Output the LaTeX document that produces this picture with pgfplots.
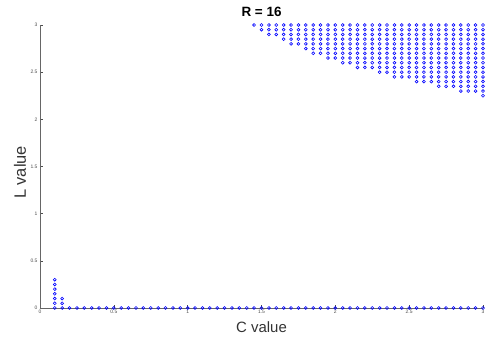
\documentclass[border=0pt]{standalone}
\usepackage{fontspec}
\setmainfont{Liberation Sans}
\usepackage{pgfplots}
\pgfplotsset{compat=1.18}
\begin{document}
\begin{tikzpicture}
\begin{axis}[
  name=ax,
  scale only axis,
  width=443bp, height=283bp,
  xmin=0, xmax=3, ymin=0, ymax=3,
  axis x line=bottom, axis y line=left,
  axis line style={-, draw=black!60, line width=0.8bp},
  xtick={0,0.5,1,1.5,2,2.5,3},
  ytick={0,0.5,1,1.5,2,2.5,3},
  xticklabels={0,0.5,1,1.5,2,2.5,3},
  yticklabels={0,0.5,1,1.5,2,2.5,3},
  tick align=inside,
  major tick length=3bp,
  tick style={draw=black!70, line width=0.6bp},
  tick label style={font=\fontsize{5}{6}\selectfont, text=black!70},
  xticklabel style={yshift=1bp},
  yticklabel style={xshift=1bp},
  /pgf/number format/assume math mode=true,
  clip=false,
  every axis title shift=0pt,
  title={\textbf{R = 16}},
  title style={at={(axis description cs:0.5,1)}, anchor=base, yshift=8bp, inner sep=0pt, font=\fontsize{13.5}{16}\selectfont},
  xlabel={C value},
  ylabel={L value},
  x label style={at={(axis description cs:0.5,0)}, anchor=north, yshift=-13bp, inner sep=0pt, font=\fontsize{15}{18}\selectfont, text=black!80},
  y label style={at={(axis description cs:-0.0451,0.479)}, anchor=center, inner sep=0pt, font=\fontsize{16.5}{19}\selectfont, text=black!80},
]
\addplot[only marks, mark=o, mark size=1.45bp, mark options={draw=blue, line width=0.6bp}] coordinates {
(0.1,0)(0.15,0)(0.2,0)(0.25,0)(0.3,0)(0.35,0)(0.4,0)(0.45,0)(0.5,0)(0.55,0)
(0.6,0)(0.65,0)(0.7,0)(0.75,0)(0.8,0)(0.85,0)(0.9,0)(0.95,0)(1,0)(1.05,0)
(1.1,0)(1.15,0)(1.2,0)(1.25,0)(1.3,0)(1.35,0)(1.4,0)(1.45,0)(1.5,0)(1.55,0)
(1.6,0)(1.65,0)(1.7,0)(1.75,0)(1.8,0)(1.85,0)(1.9,0)(1.95,0)(2,0)(2.05,0)
(2.1,0)(2.15,0)(2.2,0)(2.25,0)(2.3,0)(2.35,0)(2.4,0)(2.45,0)(2.5,0)(2.55,0)
(2.6,0)(2.65,0)(2.7,0)(2.75,0)(2.8,0)(2.85,0)(2.9,0)(2.95,0)(3,0)
(0.1,0.05)(0.1,0.1)(0.1,0.15)(0.1,0.2)(0.1,0.25)(0.1,0.3)
(0.15,0.05)(0.15,0.1)
(1.45,3)
(1.5,3)(1.5,2.95)
(1.55,3)(1.55,2.95)(1.55,2.9)
(1.6,3)(1.6,2.95)(1.6,2.9)
(1.65,3)(1.65,2.95)(1.65,2.9)(1.65,2.85)
(1.7,3)(1.7,2.95)(1.7,2.9)(1.7,2.85)(1.7,2.8)
(1.75,3)(1.75,2.95)(1.75,2.9)(1.75,2.85)(1.75,2.8)
(1.8,3)(1.8,2.95)(1.8,2.9)(1.8,2.85)(1.8,2.8)(1.8,2.75)
(1.85,3)(1.85,2.95)(1.85,2.9)(1.85,2.85)(1.85,2.8)(1.85,2.75)(1.85,2.7)
(1.9,3)(1.9,2.95)(1.9,2.9)(1.9,2.85)(1.9,2.8)(1.9,2.75)(1.9,2.7)
(1.95,3)(1.95,2.95)(1.95,2.9)(1.95,2.85)(1.95,2.8)(1.95,2.75)(1.95,2.7)(1.95,2.65)
(2,3)(2,2.95)(2,2.9)(2,2.85)(2,2.8)(2,2.75)(2,2.7)(2,2.65)
(2.05,3)(2.05,2.95)(2.05,2.9)(2.05,2.85)(2.05,2.8)(2.05,2.75)(2.05,2.7)(2.05,2.65)(2.05,2.6)
(2.1,3)(2.1,2.95)(2.1,2.9)(2.1,2.85)(2.1,2.8)(2.1,2.75)(2.1,2.7)(2.1,2.65)(2.1,2.6)
(2.15,3)(2.15,2.95)(2.15,2.9)(2.15,2.85)(2.15,2.8)(2.15,2.75)(2.15,2.7)(2.15,2.65)(2.15,2.6)(2.15,2.55)
(2.2,3)(2.2,2.95)(2.2,2.9)(2.2,2.85)(2.2,2.8)(2.2,2.75)(2.2,2.7)(2.2,2.65)(2.2,2.6)(2.2,2.55)
(2.25,3)(2.25,2.95)(2.25,2.9)(2.25,2.85)(2.25,2.8)(2.25,2.75)(2.25,2.7)(2.25,2.65)(2.25,2.6)(2.25,2.55)
(2.3,3)(2.3,2.95)(2.3,2.9)(2.3,2.85)(2.3,2.8)(2.3,2.75)(2.3,2.7)(2.3,2.65)(2.3,2.6)(2.3,2.55)(2.3,2.5)
(2.35,3)(2.35,2.95)(2.35,2.9)(2.35,2.85)(2.35,2.8)(2.35,2.75)(2.35,2.7)(2.35,2.65)(2.35,2.6)(2.35,2.55)(2.35,2.5)
(2.4,3)(2.4,2.95)(2.4,2.9)(2.4,2.85)(2.4,2.8)(2.4,2.75)(2.4,2.7)(2.4,2.65)(2.4,2.6)(2.4,2.55)(2.4,2.5)(2.4,2.45)
(2.45,3)(2.45,2.95)(2.45,2.9)(2.45,2.85)(2.45,2.8)(2.45,2.75)(2.45,2.7)(2.45,2.65)(2.45,2.6)(2.45,2.55)(2.45,2.5)(2.45,2.45)
(2.5,3)(2.5,2.95)(2.5,2.9)(2.5,2.85)(2.5,2.8)(2.5,2.75)(2.5,2.7)(2.5,2.65)(2.5,2.6)(2.5,2.55)(2.5,2.5)(2.5,2.45)
(2.55,3)(2.55,2.95)(2.55,2.9)(2.55,2.85)(2.55,2.8)(2.55,2.75)(2.55,2.7)(2.55,2.65)(2.55,2.6)(2.55,2.55)(2.55,2.5)(2.55,2.45)(2.55,2.4)
(2.6,3)(2.6,2.95)(2.6,2.9)(2.6,2.85)(2.6,2.8)(2.6,2.75)(2.6,2.7)(2.6,2.65)(2.6,2.6)(2.6,2.55)(2.6,2.5)(2.6,2.45)(2.6,2.4)
(2.65,3)(2.65,2.95)(2.65,2.9)(2.65,2.85)(2.65,2.8)(2.65,2.75)(2.65,2.7)(2.65,2.65)(2.65,2.6)(2.65,2.55)(2.65,2.5)(2.65,2.45)(2.65,2.4)
(2.7,3)(2.7,2.95)(2.7,2.9)(2.7,2.85)(2.7,2.8)(2.7,2.75)(2.7,2.7)(2.7,2.65)(2.7,2.6)(2.7,2.55)(2.7,2.5)(2.7,2.45)(2.7,2.4)(2.7,2.35)
(2.75,3)(2.75,2.95)(2.75,2.9)(2.75,2.85)(2.75,2.8)(2.75,2.75)(2.75,2.7)(2.75,2.65)(2.75,2.6)(2.75,2.55)(2.75,2.5)(2.75,2.45)(2.75,2.4)(2.75,2.35)
(2.8,3)(2.8,2.95)(2.8,2.9)(2.8,2.85)(2.8,2.8)(2.8,2.75)(2.8,2.7)(2.8,2.65)(2.8,2.6)(2.8,2.55)(2.8,2.5)(2.8,2.45)(2.8,2.4)(2.8,2.35)
(2.85,3)(2.85,2.95)(2.85,2.9)(2.85,2.85)(2.85,2.8)(2.85,2.75)(2.85,2.7)(2.85,2.65)(2.85,2.6)(2.85,2.55)(2.85,2.5)(2.85,2.45)(2.85,2.4)(2.85,2.35)(2.85,2.3)
(2.9,3)(2.9,2.95)(2.9,2.9)(2.9,2.85)(2.9,2.8)(2.9,2.75)(2.9,2.7)(2.9,2.65)(2.9,2.6)(2.9,2.55)(2.9,2.5)(2.9,2.45)(2.9,2.4)(2.9,2.35)(2.9,2.3)
(2.95,3)(2.95,2.95)(2.95,2.9)(2.95,2.85)(2.95,2.8)(2.95,2.75)(2.95,2.7)(2.95,2.65)(2.95,2.6)(2.95,2.55)(2.95,2.5)(2.95,2.45)(2.95,2.4)(2.95,2.35)(2.95,2.3)
(3,3)(3,2.95)(3,2.9)(3,2.85)(3,2.8)(3,2.75)(3,2.7)(3,2.65)(3,2.6)(3,2.55)(3,2.5)(3,2.45)(3,2.4)(3,2.35)(3,2.3)(3,2.25)
};
\end{axis}
\pgfresetboundingbox
\path ([shift={(-40bp,-32bp)}]ax.south west) rectangle ([shift={(2bp,25bp)}]ax.north east);
\end{tikzpicture}
\end{document}
